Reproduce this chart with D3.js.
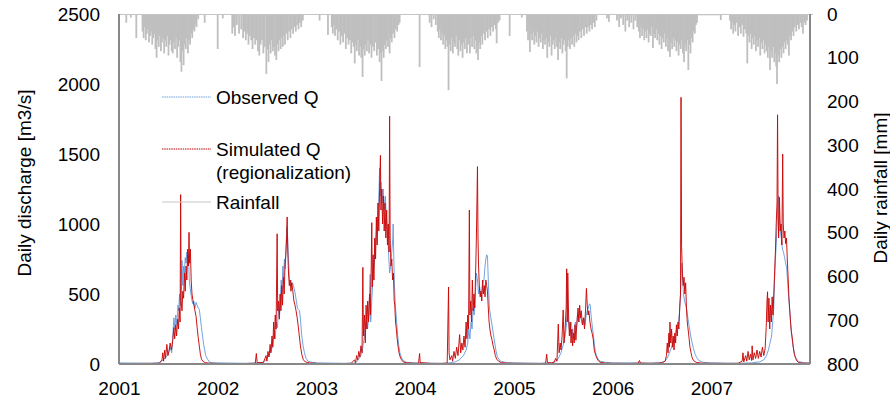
<!DOCTYPE html>
<html><head><meta charset="utf-8">
<script src="https://cdn.jsdelivr.net/npm/d3@7"></script>
<style>
body{margin:0;background:#fff}
svg{display:block}
text{font-family:"Liberation Sans",Arial,sans-serif;fill:#000}
</style>
</head><body><svg id="chart" width="890" height="400"></svg>
<script>
// ---- data: one inner list per year, rows are [day of year, value] ----
const years = [2001, 2002, 2003, 2004, 2005, 2006, 2007];
const xTickLabels = ["2001", "2002", "2003", "2004", "2005", "2006", "2007"];
const qTicks = [0, 500, 1000, 1500, 2000, 2500];
const rainTicks = [0, 100, 200, 300, 400, 500, 600, 700, 800];
const legendLabels = [["Observed Q"], ["Simulated Q", "(regionalization)"], ["Rainfall"]];

// Observed daily discharge [m3/s]
const observedQ = [
  [[1,8],[120,5],[150,10],[165,30],[180,60],[190,120],[196,80],[200,200],[204,330],[208,250],[211,350],[215,280],[219,420],[222,380],[225,500],[228,420],[231,600],[234,740],[237,560],[240,700],[243,650],[246,760],[249,720],[252,800],[255,700],[258,780],[261,600],[264,550],[267,500],[270,460],[274,430],[278,450],[282,400],[286,440],[290,420],[294,400],[298,390],[302,330],[306,260],[310,200],[314,140],[318,100],[322,60],[328,35],[337,12],[350,9],[365,8]],
  [[1,8],[100,5],[150,8],[170,12],[180,30],[190,60],[200,100],[205,150],[210,220],[214,180],[218,300],[222,260],[226,400],[230,350],[233,480],[236,600],[239,520],[242,700],[245,620],[248,750],[251,680],[254,850],[257,980],[260,900],[263,750],[266,620],[269,580],[272,600],[275,560],[278,580],[281,560],[284,540],[288,500],[292,450],[296,400],[300,390],[304,380],[308,300],[312,200],[317,130],[322,80],[328,40],[335,20],[350,12],[365,10]],
  [[1,8],[100,5],[140,6],[150,15],[160,40],[170,80],[175,150],[180,220],[185,300],[190,250],[195,330],[200,640],[202,300],[206,450],[210,600],[214,700],[218,800],[222,900],[226,1000],[230,1100],[233,1250],[235,1400],[237,1200],[240,1300],[244,1150],[248,1250],[252,1100],[256,1200],[260,1050],[264,950],[268,800],[272,650],[276,700],[280,800],[284,900],[285,1000],[287,800],[290,550],[294,400],[298,300],[302,200],[306,130],[310,80],[315,50],[322,25],[335,12],[365,8]],
  [[1,8],[100,5],[130,8],[150,15],[165,30],[180,60],[190,100],[196,150],[200,250],[204,180],[208,300],[212,250],[216,400],[220,350],[224,500],[228,650],[232,600],[236,500],[240,550],[244,480],[248,520],[252,580],[256,600],[260,700],[263,750],[266,780],[269,770],[272,600],[276,400],[280,350],[284,300],[288,250],[292,200],[296,150],[300,100],[305,55],[312,30],[320,18],[340,10],[366,8]],
  [[1,8],[100,5],[140,8],[155,15],[165,40],[175,80],[185,150],[192,220],[196,300],[200,350],[204,280],[208,220],[212,300],[216,250],[220,180],[224,250],[228,300],[232,250],[236,350],[240,300],[244,380],[248,330],[252,300],[256,280],[260,330],[264,280],[268,350],[272,380],[276,400],[280,430],[283,420],[286,350],[290,280],[294,220],[298,150],[302,90],[306,60],[312,35],[320,20],[340,12],[365,8]],
  [[1,8],[100,8],[140,6],[180,10],[195,20],[205,50],[215,100],[225,150],[232,200],[238,250],[244,300],[248,360],[252,500],[255,650],[257,720],[260,600],[263,500],[267,450],[271,420],[275,390],[280,320],[285,260],[290,200],[295,150],[300,110],[306,70],[312,45],[320,25],[335,12],[365,8]],
  [[1,8],[100,5],[150,8],[180,15],[195,30],[205,60],[212,100],[218,150],[224,200],[228,300],[232,400],[235,600],[238,750],[241,850],[244,1000],[247,1150],[250,1200],[253,1050],[256,950],[260,900],[264,820],[268,800],[272,760],[276,720],[280,680],[284,560],[288,450],[292,360],[296,250],[300,180],[304,120],[308,80],[312,50],[318,30],[325,18],[340,10],[365,8]]
];

// Simulated daily discharge (regionalization) [m3/s]
const simulatedQ = [
  [[1,3],[150,5],[160,30],[163,80],[166,20],[170,100],[173,40],[178,140],[182,60],[186,90],[190,150],[195,100],[200,170],[204,260],[207,180],[211,280],[214,200],[218,320],[221,250],[224,400],[227,300],[229,1210],[231,450],[234,380],[237,520],[240,470],[243,650],[246,520],[249,700],[252,600],[255,820],[258,700],[260,940],[262,720],[265,820],[268,600],[271,500],[274,460],[278,420],[282,380],[286,340],[290,260],[294,190],[298,130],[302,70],[306,35],[312,18],[320,10],[335,6],[365,4]],
  [[1,4],[60,3],[100,3],[140,5],[144,75],[147,10],[170,10],[180,60],[183,20],[187,90],[191,50],[195,140],[198,80],[202,200],[205,120],[208,300],[211,180],[214,350],[217,250],[221,930],[223,380],[226,450],[229,320],[232,500],[235,380],[238,560],[241,420],[244,620],[247,500],[250,700],[253,780],[256,900],[258,1050],[260,820],[263,650],[266,560],[269,600],[272,520],[275,580],[279,520],[283,450],[287,420],[291,380],[295,330],[299,270],[303,200],[307,130],[312,70],[318,30],[325,15],[340,8],[365,5]],
  [[1,4],[100,3],[130,5],[142,30],[146,10],[150,60],[154,30],[158,90],[162,50],[166,130],[170,80],[173,690],[175,200],[179,350],[182,150],[185,420],[188,250],[191,450],[194,300],[198,500],[201,350],[204,700],[206,1010],[208,550],[211,780],[214,600],[217,900],[220,750],[223,1050],[226,850],[229,1150],[232,950],[235,1250],[238,1490],[240,1100],[243,1250],[246,1000],[249,1200],[252,950],[255,1150],[258,900],[261,1100],[264,850],[267,1000],[270,800],[272,1770],[274,900],[277,700],[280,750],[283,600],[286,650],[289,450],[291,420],[294,300],[297,250],[300,180],[303,130],[307,80],[311,50],[316,30],[322,15],[335,8],[365,5]],
  [[1,5],[14,5],[18,75],[20,10],[60,4],[100,4],[120,6],[125,550],[127,80],[130,30],[137,60],[140,20],[145,90],[150,40],[155,120],[160,60],[166,210],[170,80],[174,150],[178,100],[182,200],[186,120],[190,300],[193,180],[196,350],[199,250],[202,1100],[204,350],[207,450],[210,300],[213,600],[216,380],[219,500],[222,400],[225,650],[228,900],[232,1410],[234,900],[236,700],[239,550],[242,480],[245,520],[248,450],[251,600],[254,500],[257,560],[260,480],[263,600],[266,560],[269,520],[272,400],[275,300],[278,250],[282,200],[286,170],[290,130],[294,100],[298,60],[303,35],[310,20],[320,10],[340,6],[366,5]],
  [[1,5],[60,4],[100,4],[118,5],[122,70],[125,10],[140,8],[150,15],[155,40],[160,20],[165,285],[168,80],[172,150],[175,100],[179,200],[183,386],[186,150],[190,250],[194,400],[196,680],[198,300],[200,650],[203,350],[206,200],[209,300],[212,150],[215,250],[218,130],[221,220],[224,150],[227,280],[230,170],[234,300],[238,400],[241,300],[244,420],[247,330],[250,380],[254,280],[258,330],[262,250],[266,400],[269,540],[272,420],[275,350],[278,380],[282,300],[286,250],[290,220],[294,180],[298,100],[302,70],[306,50],[312,25],[320,12],[340,6],[365,5]],
  [[1,5],[60,4],[95,5],[100,25],[104,6],[140,5],[170,6],[185,10],[195,20],[200,60],[203,150],[206,80],[209,220],[211,120],[213,300],[216,150],[219,250],[222,120],[225,200],[228,100],[231,220],[234,150],[237,280],[240,200],[243,300],[246,250],[249,400],[252,500],[254,1905],[256,840],[259,650],[262,560],[265,620],[268,500],[271,580],[274,400],[277,300],[280,250],[284,180],[287,120],[291,80],[295,45],[300,25],[310,12],[330,6],[365,5]],
  [[1,5],[60,4],[100,5],[115,20],[118,80],[121,15],[128,60],[132,20],[137,90],[141,30],[146,70],[150,25],[152,130],[155,30],[160,80],[165,40],[170,100],[175,40],[180,90],[185,50],[190,120],[195,60],[200,110],[204,260],[207,450],[209,516],[211,300],[214,470],[217,250],[220,420],[223,300],[226,480],[229,350],[232,500],[235,650],[238,800],[241,1000],[244,1150],[246,1780],[248,1100],[250,900],[253,1190],[256,950],[259,1000],[262,850],[265,1500],[267,1000],[270,900],[273,950],[276,860],[279,900],[282,750],[285,620],[288,480],[291,386],[294,300],[297,230],[300,190],[304,120],[308,70],[312,45],[318,20],[325,10],[340,6],[365,5]]
];

// Daily rainfall [mm]
const rainfall = [
  [[28,20],[45,8],[65,55],[88,40],[92,55],[96,30],[100,60],[104,45],[108,35],[112,65],[116,50],[120,40],[124,70],[128,55],[132,45],[136,80],[140,100],[144,60],[148,75],[152,50],[156,85],[160,65],[164,55],[168,90],[172,60],[176,75],[180,50],[184,95],[188,70],[192,60],[196,85],[200,90],[204,65],[208,80],[212,55],[216,100],[220,75],[224,60],[228,110],[232,132],[236,85],[240,117],[244,70],[248,80],[252,55],[256,90],[260,60],[264,70],[268,45],[272,55],[276,35],[280,40],[284,25],[288,30],[294,12],[318,20]],
  [[1,80],[20,10],[55,45],[60,30],[65,50],[72,25],[80,45],[88,35],[95,55],[100,40],[105,60],[110,45],[115,70],[120,50],[125,60],[130,80],[135,55],[140,70],[145,60],[150,85],[155,95],[160,70],[165,60],[170,90],[175,75],[181,137],[185,80],[189,110],[193,70],[197,90],[201,60],[205,85],[209,75],[213,95],[218,105],[222,70],[226,85],[230,60],[234,80],[238,55],[242,75],[246,50],[250,70],[255,45],[260,60],[265,40],[270,55],[275,35],[280,45],[285,30],[290,40],[295,25],[300,35],[305,20],[310,30],[316,15]],
  [[13,15],[44,48],[58,30],[62,45],[66,25],[70,50],[75,35],[80,60],[85,40],[90,70],[95,50],[100,65],[105,45],[110,80],[115,55],[120,70],[125,60],[130,90],[135,65],[139,75],[143,113],[147,70],[151,85],[155,60],[159,95],[163,75],[167,100],[172,144],[176,80],[180,95],[184,70],[188,85],[192,60],[196,90],[200,70],[205,100],[210,75],[215,85],[220,65],[225,95],[230,80],[235,110],[238,90],[242,153],[246,85],[250,100],[254,70],[258,80],[262,60],[266,75],[272,90],[276,55],[280,65],[285,45],[290,55],[295,35],[300,40],[305,25],[309,20]],
  [[18,121],[55,20],[62,30],[70,12],[78,25],[85,40],[89,55],[93,35],[97,60],[101,45],[105,70],[109,50],[113,80],[117,60],[121,75],[125,174],[129,70],[133,85],[137,55],[141,90],[145,65],[149,75],[153,50],[157,80],[161,95],[165,60],[169,85],[173,70],[177,100],[181,65],[185,80],[189,55],[193,90],[197,70],[201,60],[204,90],[208,55],[212,75],[216,50],[220,80],[224,60],[228,90],[232,70],[234,105],[238,65],[242,80],[246,50],[250,70],[255,45],[260,60],[265,40],[270,55],[275,35],[280,50],[285,30],[290,40],[295,25],[300,35],[303,67],[308,20],[314,15],[351,50]],
  [[30,8],[49,40],[53,60],[57,35],[60,87],[64,45],[68,60],[72,40],[76,70],[80,50],[84,65],[88,40],[92,75],[96,55],[100,65],[104,45],[108,80],[112,60],[116,70],[120,55],[124,100],[128,65],[132,75],[136,50],[140,95],[144,70],[148,60],[152,80],[156,55],[160,75],[164,105],[168,65],[172,80],[176,55],[180,90],[184,70],[188,60],[192,85],[196,147],[200,75],[204,60],[208,80],[212,55],[216,70],[220,50],[224,75],[228,45],[232,65],[236,50],[240,60],[245,40],[250,55],[255,35],[260,50],[265,30],[270,45],[275,30],[280,40],[285,25],[290,35],[295,20],[300,30],[306,15],[345,10],[352,18]],
  [[17,15],[25,30],[32,10],[40,25],[48,40],[55,15],[62,30],[70,20],[78,35],[85,15],[92,30],[98,40],[102,55],[106,30],[110,50],[114,35],[118,60],[122,40],[126,55],[130,35],[134,65],[138,45],[142,50],[146,30],[150,78],[154,45],[158,55],[162,35],[166,60],[170,45],[174,70],[178,50],[182,80],[186,55],[190,65],[194,45],[198,75],[202,55],[206,85],[210,60],[213,98],[217,65],[221,80],[225,55],[229,75],[233,60],[237,85],[241,65],[245,95],[249,70],[253,80],[257,60],[261,90],[265,110],[269,70],[273,85],[277,60],[281,128],[285,70],[289,90],[293,55],[297,65],[301,40],[305,45],[309,25],[313,20],[318,3],[325,3],[332,3],[340,3],[348,3],[356,3],[363,3]],
  [[5,3],[12,3],[20,3],[28,3],[36,14],[70,15],[74,35],[78,20],[82,45],[86,25],[90,40],[95,20],[100,50],[105,30],[110,45],[115,25],[120,52],[125,35],[130,45],[134,113],[138,50],[142,65],[146,45],[150,80],[154,55],[158,70],[162,50],[166,85],[170,60],[174,75],[178,55],[182,95],[186,65],[190,80],[194,60],[198,90],[202,70],[206,85],[210,100],[214,75],[218,128],[222,85],[226,100],[230,75],[234,110],[238,90],[241,120],[244,160],[248,95],[252,110],[256,80],[260,100],[264,75],[268,90],[272,65],[276,80],[280,60],[284,70],[288,95],[292,50],[296,60],[300,40],[305,50],[310,30],[315,40],[320,25],[325,35],[330,20],[335,30],[340,45],[345,20],[350,25],[355,15]]
];

// ---- build ----
const toRows = (byYear) => byYear.flatMap((rows, i) =>
  rows.map(([doy, v]) => ({ date: new Date(Date.UTC(years[i], 0, doy)), v })));
const obs = toRows(observedQ);
const sim = toRows(simulatedQ);
const rain = toRows(rainfall);

const svg = d3.select("#chart");
const L = 119, R = 810, T = 14, B = 364;
const FS = 19;

const x = d3.scaleUtc().domain([new Date(Date.UTC(2001,0,1)), new Date(Date.UTC(2008,0,1))]).range([L, R]);
const yQ = d3.scaleLinear().domain([0, 2500]).range([B, T]);
const yR = d3.scaleLinear().domain([0, 800]).range([T, B]);

// rainfall bars hanging from top
svg.append("g").selectAll("rect").data(rain).join("rect")
  .attr("x", d => x(d.date) - 0.9)
  .attr("width", 1.8)
  .attr("y", yR(0))
  .attr("height", d => yR(d.v) - yR(0))
  .attr("fill", "#bfbfbf");

// top baseline of rainfall
svg.append("line").attr("x1", L).attr("x2", R + 3).attr("y1", T + 0.5).attr("y2", T + 0.5)
  .attr("stroke", "#c4c4c4").attr("stroke-width", 1);

const line = d3.line().x(d => x(d.date)).y(d => yQ(d.v));

svg.append("path").datum(obs).attr("d", line)
  .attr("fill", "none").attr("stroke", "#5b93dc").attr("stroke-width", 1).attr("stroke-opacity", 0.85);
svg.append("path").datum(sim).attr("d", line)
  .attr("fill", "none").attr("stroke", "#c80808").attr("stroke-width", 1).attr("stroke-opacity", 0.95);

// axes
const axisColor = "#888888";
const gL = svg.append("g").attr("transform", `translate(${L},0)`)
  .call(d3.axisLeft(yQ).tickValues(qTicks).tickSize(0).tickPadding(19).tickFormat(d3.format("d")));
const gR = svg.append("g").attr("transform", `translate(${R},0)`)
  .call(d3.axisRight(yR).tickValues(rainTicks).tickSize(0).tickPadding(17).tickFormat(d3.format("d")));
const gB = svg.append("g").attr("transform", `translate(0,${B})`)
  .call(d3.axisBottom(x).tickValues(years.map(y => new Date(Date.UTC(y,0,1))))
    .tickSize(0).tickPadding(18).tickFormat((d, i) => xTickLabels[i]));
[gL, gR, gB].forEach(g => {
  g.select(".domain").attr("stroke", axisColor).attr("stroke-width", 2);
  g.selectAll("text").attr("font-size", FS).attr("font-family", "Liberation Sans, Arial, sans-serif").attr("fill", "#000");
});
gL.select(".domain").attr("d", `M0,${B}V${T}`);
gR.select(".domain").attr("d", `M0,${B}V${T}`);
gB.select(".domain").attr("d", `M${L},0H${R}`);

// axis titles
svg.append("text").attr("transform", `translate(31,183) rotate(-90)`)
  .attr("text-anchor", "middle").attr("font-size", FS).text("Daily discharge [m3/s]");
svg.append("text").attr("transform", `translate(887,188) rotate(-90)`)
  .attr("text-anchor", "middle").attr("font-size", FS).text("Daily rainfall [mm]");

// legend
const leg = svg.append("g");
const legY = [97, 149, 202];
const legStyles = [
  { stroke: "#6a9fe0", dash: "1.5,0.8" },
  { stroke: "#c00000", dash: "1.5,0.8" },
  { stroke: "#c8c8c8", dash: null }
];
legendLabels.forEach((lines, i) => {
  leg.append("line").attr("x1", 162).attr("x2", 211).attr("y1", legY[i]).attr("y2", legY[i])
    .attr("stroke", legStyles[i].stroke).attr("stroke-width", 1.2)
    .attr("stroke-dasharray", legStyles[i].dash);
  lines.forEach((t, k) => {
    leg.append("text").attr("x", 216).attr("y", legY[i] + 6.8 + k * 23)
      .attr("font-size", FS).text(t);
  });
});
</script>
</body></html>
